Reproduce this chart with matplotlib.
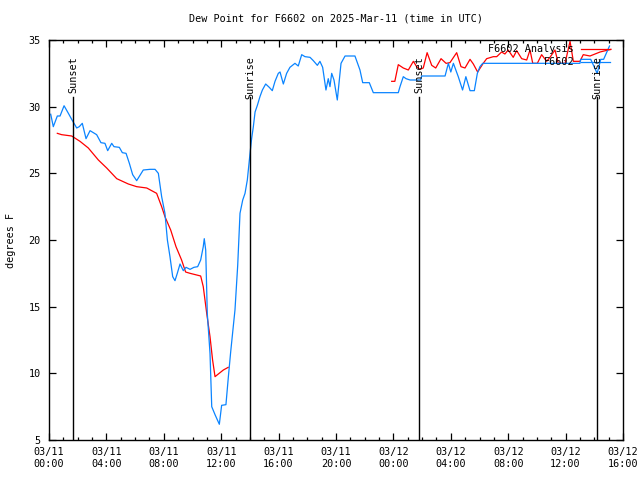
import matplotlib
matplotlib.use("Agg")
import matplotlib.pyplot as plt
import numpy as np

# hours since 03/11 00:00 UTC, dew point in deg F
obs_hours = [0.12, 0.3, 0.58, 0.77, 1.05, 1.35, 1.58, 1.93, 2.11, 2.32, 2.58, 2.86,
             3.32, 3.62, 3.9, 4.09, 4.37, 4.53, 4.9, 5.11, 5.37, 5.6, 5.83, 6.11,
             6.57, 7.04, 7.39, 7.62, 7.85, 8.08, 8.25, 8.43, 8.62, 8.78, 8.94, 9.13,
             9.36, 9.55, 9.83, 10.1, 10.36, 10.57, 10.75, 10.82, 10.92, 11.03, 11.22,
             11.34, 11.57, 11.87, 12.03, 12.33, 12.5, 12.66, 12.84, 12.96, 13.15,
             13.31, 13.5, 13.66, 13.82, 14.0, 14.12, 14.24, 14.36, 14.52, 14.7,
             14.87, 15.1, 15.35, 15.56, 15.75, 15.98, 16.1, 16.33, 16.56, 16.79,
             17.14, 17.37, 17.61, 17.84, 18.19, 18.42, 18.7, 18.88, 19.07, 19.3,
             19.46, 19.58, 19.7, 19.86, 20.09, 20.35, 20.63, 21.32, 21.67, 21.86,
             22.32, 22.6, 24.34, 24.46, 24.69, 24.88, 25.16, 25.9, 25.97, 27.6,
             27.83, 28.0, 28.18, 28.52, 28.82, 29.05, 29.34, 29.64, 29.85, 30.03,
             30.22, 37.0, 37.05, 37.75, 38.2, 38.45, 38.65, 39.06]
obs_dewpt = [29.43, 28.5, 29.3, 29.3, 30.07, 29.5, 29.05, 28.4, 28.5, 28.75, 27.6, 28.2,
             27.9, 27.3, 27.25, 26.7, 27.25, 27.0, 26.95, 26.55, 26.5, 25.75, 24.9, 24.45,
             25.25, 25.3, 25.3, 25.0, 23.25, 22.0, 20.0, 18.75, 17.25, 16.95, 17.5, 18.2,
             17.7, 17.95, 17.8, 17.95, 18.0, 18.5, 19.5, 20.1, 19.25, 14.5, 11.5,
             7.5, 6.9, 6.18, 7.6, 7.65, 9.75, 11.6, 13.5, 14.75, 18.1,
             22.0, 23.0, 23.5, 24.5, 26.4, 27.6, 28.5, 29.6, 30.1, 30.75,
             31.25, 31.7, 31.45, 31.2, 31.9, 32.5, 32.6, 31.7, 32.5, 32.95,
             33.25, 33.05, 33.9, 33.75, 33.7, 33.45, 33.1, 33.4, 32.95, 31.25,
             32.1, 31.5, 32.5, 32.0, 30.5, 33.25, 33.8, 33.8, 32.75, 31.8,
             31.8, 31.05, 31.05, 31.5, 32.25, 32.1, 32.0, 32.0, 32.3, 32.3,
             33.25, 32.6, 33.25, 32.25, 31.25, 32.25, 31.2, 31.2, 32.5, 33.0,
             33.25, 33.25, 33.55, 33.55, 32.5, 33.55, 33.55, 34.55]

# analysis comes in two pieces with a gap overnight
ana1_hours = [0.58, 0.88, 1.58, 2.16, 2.74, 3.44, 4.02, 4.72, 5.53, 6.11, 6.81, 7.5,
              7.85, 8.08, 8.48, 8.85, 9.24, 9.52, 9.83, 10.57, 10.75, 10.99, 11.22,
              11.4, 11.57, 11.8, 12.15, 12.49]
ana1_dewpt = [28.0, 27.9, 27.8, 27.4, 26.9, 26.0, 25.4, 24.6, 24.2, 24.0, 23.9, 23.5,
              22.5, 21.75, 20.75, 19.5, 18.5, 17.6, 17.5, 17.3, 16.5, 14.5, 12.75,
              11.0, 9.75, 9.95, 10.25, 10.45]
ana2_hours = [23.88, 24.1, 24.34, 24.69, 25.04, 25.39, 25.62, 25.85, 26.08, 26.35,
              26.67, 26.95, 27.32, 27.67, 27.94, 28.41, 28.71, 28.99, 29.34, 29.57,
              29.87, 30.26, 30.5, 30.96, 31.2, 31.54, 31.77, 32.0, 32.35, 32.59,
              32.94, 33.29, 33.52, 33.71, 34.03, 34.33, 34.68, 34.91, 35.26, 35.49,
              35.96, 36.31, 36.54, 37.0, 37.23, 37.7, 38.4, 39.16]
ana2_dewpt = [31.9, 31.9, 33.15, 32.9, 32.75, 33.4, 33.0, 32.8, 32.9, 34.05,
              33.1, 32.9, 33.6, 33.25, 33.3, 34.05, 33.0, 32.9, 33.55, 33.2,
              32.6, 33.25, 33.6, 33.75, 33.75, 34.1, 33.95, 34.25, 33.7, 34.2,
              33.6, 33.5, 34.25, 33.25, 33.25, 33.9, 33.4, 33.7, 34.25, 33.25,
              33.25, 34.9, 33.4, 33.4, 33.9, 33.8, 34.1, 34.3]

sun_hours = [1.67, 14.0, 25.78, 38.19]
sun_labels = ["Sunset", "Sunrise", "Sunset", "Sunrise"]

tick_hours = [0, 4, 8, 12, 16, 20, 24, 28, 32, 36, 40]
tick_labels = ["03/11\n00:00", "03/11\n04:00", "03/11\n08:00", "03/11\n12:00",
               "03/11\n16:00", "03/11\n20:00", "03/12\n00:00", "03/12\n04:00",
               "03/12\n08:00", "03/12\n12:00", "03/12\n16:00"]

plt.rcParams['font.family'] = ['DejaVu Sans Mono']
plt.rcParams['font.size'] = 7.3

RED = '#ff0000'
BLUE = '#0a84ff'

fig = plt.figure(figsize=(6.4, 4.8), dpi=100)
ax = fig.add_axes([49 / 640, 40 / 480, 574 / 640, 400 / 480])

ax.plot(ana1_hours, ana1_dewpt, color=RED, lw=0.9)
ax.plot(ana2_hours, ana2_dewpt, color=RED, lw=0.9)
ax.plot(obs_hours, obs_dewpt, color=BLUE, lw=0.9)

for h, lab in zip(sun_hours, sun_labels):
    ax.plot([h, h], [5, 30.7], color='black', lw=1.0)
    ax.text(h, 33.8, lab, rotation=90, ha='center', va='top')

ax.set_xlim(0, 40)
ax.set_ylim(5, 35)
ax.set_xticks(tick_hours)
ax.set_xticklabels(tick_labels)
ax.set_xticks(np.arange(0, 41, 1), minor=True)
ax.set_yticks([5, 10, 15, 20, 25, 30, 35])
ax.tick_params(which='both', direction='in', top=True, right=True, width=0.9)
ax.tick_params(which='major', length=5)
ax.tick_params(which='minor', length=2.5)
ax.tick_params(axis='x', pad=5)
ax.tick_params(axis='y', pad=6)
for sp in ax.spines.values():
    sp.set_linewidth(1.0)

ax.set_ylabel("degrees F", labelpad=9)
ax.set_title("Dew Point for F6602 on 2025-Mar-11 (time in UTC)", pad=13, fontsize=7.3)

# gnuplot-style key, text right aligned with sample line after it
ax.text(0.915, 0.977, "F6602 Analysis", transform=ax.transAxes, ha='right', va='center')
ax.plot([0.926, 0.978], [0.977, 0.977], transform=ax.transAxes, color=RED, lw=0.9)
ax.text(0.915, 0.945, "F6602", transform=ax.transAxes, ha='right', va='center')
ax.plot([0.926, 0.978], [0.945, 0.945], transform=ax.transAxes, color=BLUE, lw=0.9)

fig.savefig("out.png", dpi=100)
